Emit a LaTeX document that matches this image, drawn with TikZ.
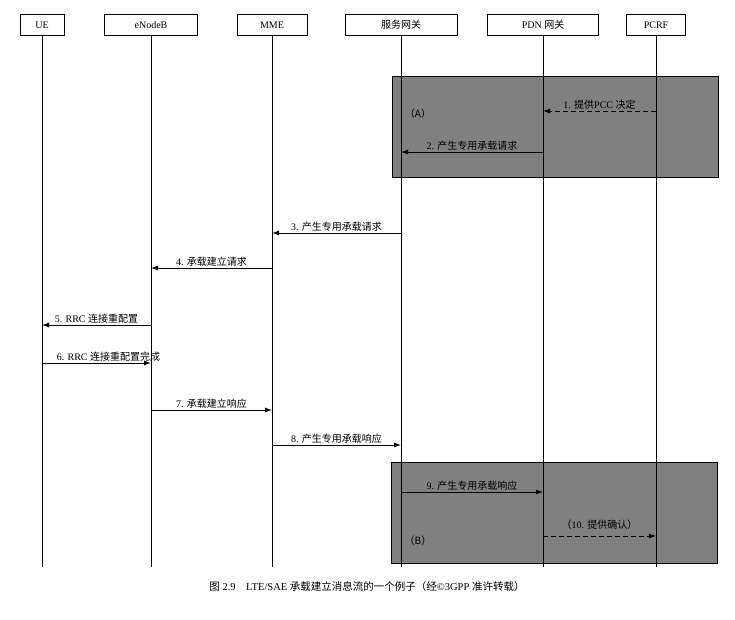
\documentclass[tikz,border=0pt]{standalone}
\usepackage{fontspec}
\setmainfont{Liberation Serif}
\newfontfamily\cjk{Noto Sans CJK SC}
\usetikzlibrary{arrows.meta}
\begin{document}
\begin{tikzpicture}[x=1pt,y=-1pt,
  hdr/.style={draw,thick,minimum height=21pt,inner sep=1pt,font=\fontsize{10}{12}\selectfont},
  life/.style={line width=0.8pt},
  msg/.style={line width=0.9pt,-{Latex[length=7pt,width=5pt]}},
  dmsg/.style={msg,dash pattern=on 5pt off 3pt},
  lab/.style={above=0.5pt,font=\fontsize{10}{12}\selectfont,inner sep=1pt},
  grp/.style={draw,line width=0.8pt,fill=black!50}]
\useasboundingbox (0,0) rectangle (735,619);
\fill[white] (0,0) rectangle (735,619);
\node[hdr,minimum width=44pt] (ue) at (42,25) {UE};
\node[hdr,minimum width=93pt] (enb) at (151,25) {eNodeB};
\node[hdr,minimum width=70pt] (mme) at (272,25) {MME};
\node[hdr,minimum width=112pt] (sgw) at (401,25) {\cjk 服务网关};
\node[hdr,minimum width=111pt] (pgw) at (543,25) {PDN {\cjk 网关}};
\node[hdr,minimum width=59pt] (pcrf) at (656,25) {PCRF};
\node[grp,minimum width=326pt,minimum height=101pt] (ga) at (555,126.5) {};
\node[grp,minimum width=326pt,minimum height=101pt] (gb) at (554,512.5) {};
\foreach \n in {ue,enb,mme,sgw,pgw,pcrf}{
  \coordinate (\n-end) at (\n |- 0,567);
  \draw[life] (\n.south) -- (\n-end);}
\foreach \i/\yy in {1/111,2/152,3/233,4/268,5/325,6/363,7/410,8/445,9/492,10/536}{
  \coordinate (y\i) at (0,\yy);}
\node[font=\fontsize{10}{12}\selectfont] (la) at (418,114) {\cjk （A）};
\node[font=\fontsize{10}{12}\selectfont] (lb) at (418,541) {\cjk （B）};
\draw[dmsg] (pcrf |- y1) -- node[lab]{1. {\cjk 提供}PCC {\cjk 决定}} (pgw |- y1);
\draw[msg] (pgw |- y2) -- node[lab]{2. {\cjk 产生专用承载请求}} (sgw |- y2);
\draw[msg] (sgw |- y3) -- node[lab]{3. {\cjk 产生专用承载请求}} (mme |- y3);
\draw[msg] (mme |- y4) -- node[lab]{4. {\cjk 承载建立请求}} (enb |- y4);
\draw[msg] (enb |- y5) -- node[lab]{5. RRC {\cjk 连接重配置}} (ue |- y5);
\draw[msg] (ue |- y6) -- node[lab,xshift=12pt]{6. RRC {\cjk 连接重配置完成}} (enb |- y6);
\draw[msg] (enb |- y7) -- node[lab]{7. {\cjk 承载建立响应}} (mme |- y7);
\draw[msg] (mme |- y8) -- node[lab]{8. {\cjk 产生专用承载响应}} (sgw |- y8);
\draw[msg] (sgw |- y9) -- node[lab]{9. {\cjk 产生专用承载响应}} (pgw |- y9);
\draw[dmsg] (pgw |- y10) -- node[lab,above=5pt]{{\cjk （}10. {\cjk 提供确认）}} (pcrf |- y10);
\node[font=\fontsize{10.5}{12}\selectfont] (cap) at (367,586) {{\cjk 图} 2.9\quad LTE/SAE {\cjk 承载建立消息流的一个例子（经}©3GPP {\cjk 准许转载）}};
\end{tikzpicture}
\end{document}
